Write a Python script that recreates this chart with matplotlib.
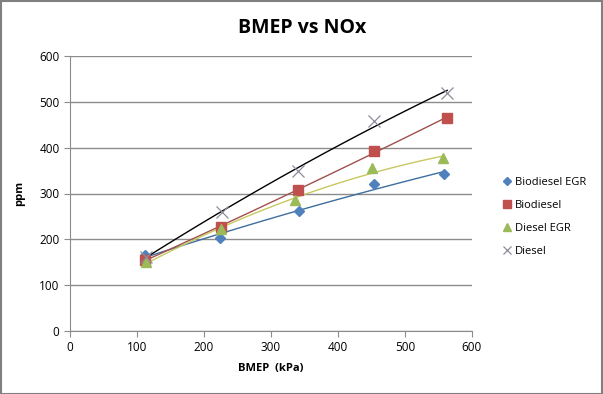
import numpy as np
import matplotlib
matplotlib.use("Agg")
import matplotlib.pyplot as plt
from matplotlib.patches import Rectangle

plt.rcParams['font.family'] = ['Open Sans', 'DejaVu Sans']

series_names = ["Biodiesel EGR", "Biodiesel", "Diesel EGR", "Diesel"]
bmep_bio_egr = [112, 224, 342, 453, 558]
nox_bio_egr = [165, 204, 261, 320, 342]
bmep_bio = [112, 225, 340, 454, 563]
nox_bio = [155, 227, 307, 393, 465]
bmep_die_egr = [114, 225, 336, 450, 557]
nox_die_egr = [150, 222, 285, 355, 377]
bmep_die = [113, 227, 341, 454, 563]
nox_die = [162, 260, 349, 458, 520]

xs = [bmep_bio_egr, bmep_bio, bmep_die_egr, bmep_die]
ys = [nox_bio_egr, nox_bio, nox_die_egr, nox_die]
marker_colors = ["#4F81BD", "#C0504D", "#9BBB59", "#8C8C9C"]
markers = ["D", "s", "^", "x"]
msizes = [5.5, 7, 7.5, 8]
line_colors = ["#3E6E9E", "#A0504D", "#C8C860", "#000000"]

W, H = 603, 394
fig = plt.figure(figsize=(W/100, H/100), dpi=100)
fig.patches.append(Rectangle((0.5/W, 0.5/H), 1-1.5/W, 1-1.5/H, transform=fig.transFigure,
                             fill=False, edgecolor="#808080", lw=1.5))
left, right, top, bottom = 70, 472, 56, 331
ax = fig.add_axes([left/W, 1-bottom/H, (right-left)/W, (bottom-top)/H])

for x, y, mc, m, ms, lc, name in zip(xs, ys, marker_colors, markers, msizes, line_colors, series_names):
    x = np.array(x, float); y = np.array(y, float)
    c = np.polyfit(x, y, 2)
    xx = np.linspace(x.min(), x.max(), 100)
    ax.plot(xx, np.polyval(c, xx), color=lc, lw=1.0, zorder=2)
    if m == "x":
        ax.plot(x, y, ls="none", marker=m, color=mc, ms=ms, mew=0.9, zorder=3, label=name)
    else:
        ax.plot(x, y, ls="none", marker=m, color=mc, ms=ms, mec=mc, zorder=3, label=name)

ax.set_xlim(0, 600)
ax.set_ylim(0, 600)
ax.set_xticks(range(0, 601, 100))
ax.set_yticks(range(0, 601, 100))
ax.grid(axis='y', color="#8C8C8C", lw=1.0)
ax.set_axisbelow(True)
for s in ["top", "right"]:
    ax.spines[s].set_visible(False)
for s in ["left", "bottom"]:
    ax.spines[s].set_color("#8C8C8C")
ax.tick_params(axis='both', colors="#8C8C8C", length=4, labelsize=8.5, labelcolor="black")
ax.set_xlabel("BMEP  (kPa)", fontsize=8, fontweight="bold", labelpad=6)
ax.set_ylabel("ppm", fontsize=8, fontweight="bold", labelpad=10)
fig.text(302/W, 1-28/H, "BMEP vs NOx", ha="center", va="center", fontsize=14, fontweight="bold")

leg = ax.legend(loc="center left", bbox_to_anchor=(1.065, 0.415),
                frameon=False, fontsize=8, handlelength=0.8, handletextpad=0.3, labelspacing=1.1,
                borderaxespad=0, markerscale=0.75)
fig.savefig("out.png", dpi=100)
